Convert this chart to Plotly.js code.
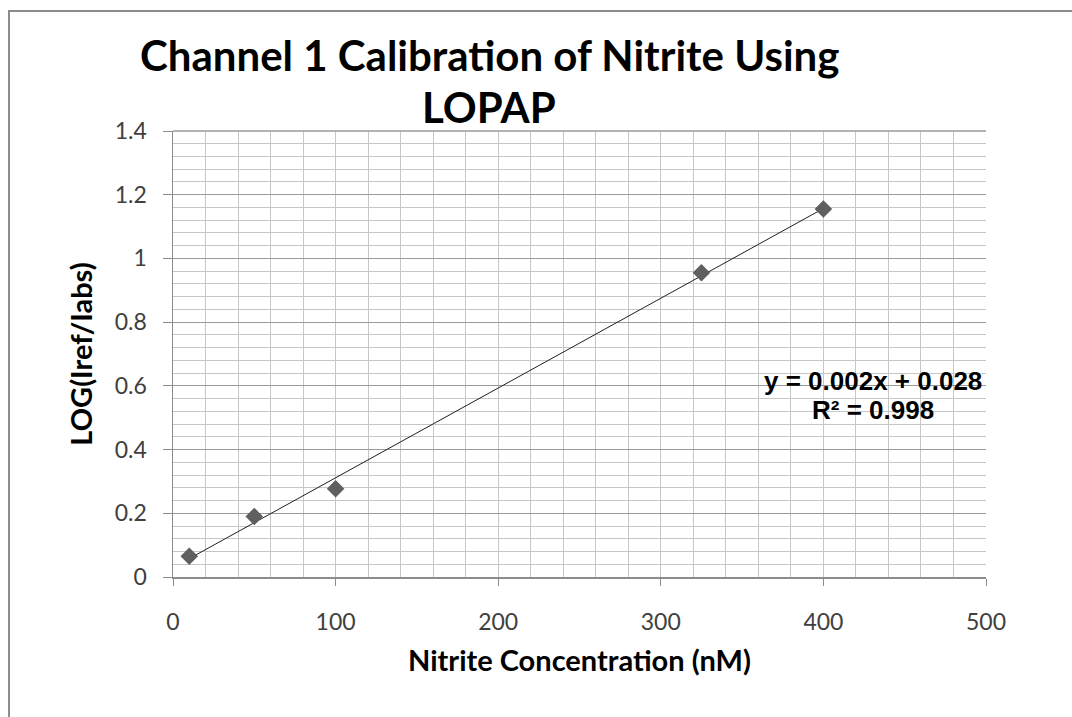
<!DOCTYPE html>
<html>
<head>
<meta charset="utf-8">
<script src="https://cdn.plot.ly/plotly-3.0.1.min.js"></script>
<style>
html,body{margin:0;padding:0;background:#fff;}
#frame{position:absolute;left:0;top:0;width:1072px;height:717px;overflow:hidden;}
#chart{position:absolute;left:0;top:0;width:1072px;height:717px;}
#border{position:absolute;left:8px;top:10px;width:1100px;height:800px;border-left:2px solid #8c8c8c;border-top:2px solid #8c8c8c;pointer-events:none;}
</style>
</head>
<body>
<div id="frame"><div id="chart"></div><div id="border"></div></div>
<script>
const concentration = [10, 50, 100, 325, 400];
const logRatio = [0.065, 0.19, 0.277, 0.955, 1.155];
const xTicks = [0, 100, 200, 300, 400, 500];
const yTicks = [0, 0.2, 0.4, 0.6, 0.8, 1, 1.2, 1.4];
const yTickText = ['0', '0.2', '0.4', '0.6', '0.8', '1', '1.2', '1.4'];
const titleLines = ['Channel 1 Calibration of Nitrite Using', 'LOPAP'];
const equationLines = ['y = 0.002x + 0.028', 'R² = 0.998'];

// least-squares trendline from the data
const n = concentration.length;
const mx = concentration.reduce((a, b) => a + b, 0) / n;
const my = logRatio.reduce((a, b) => a + b, 0) / n;
let sxy = 0, sxx = 0;
for (let i = 0; i < n; i++) { sxy += (concentration[i] - mx) * (logRatio[i] - my); sxx += (concentration[i] - mx) ** 2; }
const slope = sxy / sxx, intercept = my - slope * mx;
const trendX = [Math.min(...concentration), Math.max(...concentration)];
const trendY = trendX.map(x => slope * x + intercept);

const sans = 'Lato, "Open Sans", sans-serif';
const tickFont = {family: sans, size: 23, color: '#404040'};

const data = [
  {x: trendX, y: trendY, mode: 'lines', line: {color: '#202020', width: 1}, hoverinfo: 'skip', showlegend: false},
  {x: concentration, y: logRatio, mode: 'markers', marker: {symbol: 'diamond', size: 13.5, color: '#5f5f5f'}, showlegend: false}
];

const layout = {
  width: 1072, height: 717,
  paper_bgcolor: 'rgba(0,0,0,0)', plot_bgcolor: '#fff',
  margin: {l: 173, r: 86, t: 131, b: 140},
  xaxis: {
    range: [0, 500], tickvals: xTicks, ticktext: xTicks.map(String),
    showgrid: true, gridcolor: '#c6c6c6', gridwidth: 1,
    minor: {dtick: 20, tick0: 0, showgrid: true, gridcolor: '#c6c6c6', gridwidth: 1},
    showline: true, linecolor: '#8c8c8c', linewidth: 1.5,
    ticks: 'outside', ticklen: 7, tickcolor: '#8c8c8c', ticklabelstandoff: 17,
    tickfont: tickFont, zeroline: false,
    title: {text: '<b>Nitrite Concentration (nM)</b>', standoff: 16, font: {family: sans, size: 29, color: '#000'}}
  },
  yaxis: {
    range: [0, 1.4], tickvals: yTicks, ticktext: yTickText,
    showgrid: true, gridcolor: '#9a9a9a', gridwidth: 1,
    minor: {dtick: 0.04, tick0: 0, showgrid: true, gridcolor: '#c6c6c6', gridwidth: 1},
    showline: true, linecolor: '#8c8c8c', linewidth: 1.5, mirror: false,
    ticks: 'outside', ticklen: 9, tickcolor: '#8c8c8c', ticklabelstandoff: 11,
    tickfont: tickFont, zeroline: false,
    title: {text: '<b>LOG(Iref/Iabs)</b>', standoff: 13, font: {family: sans, size: 29, color: '#000'}}
  },
  annotations: [
    {text: '<b>' + titleLines[0] + '</b>', xref: 'paper', yref: 'paper', x: 0.389, y: 1.171, xanchor: 'center', yanchor: 'middle', showarrow: false,
      font: {family: sans, size: 42, color: '#000'}},
    {text: '<b>' + titleLines[1] + '</b>', xref: 'paper', yref: 'paper', x: 0.389, y: 1.054, xanchor: 'center', yanchor: 'middle', showarrow: false,
      font: {family: sans, size: 42, color: '#000'}},
    {text: '<b>' + equationLines[0] + '</b>', xref: 'paper', yref: 'paper', x: 0.861, y: 0.4395, xanchor: 'center', yanchor: 'middle', showarrow: false,
      font: {family: '"Liberation Sans", Arial, sans-serif', size: 26, color: '#000'}},
    {text: '<b>' + equationLines[1] + '</b>', xref: 'paper', yref: 'paper', x: 0.861, y: 0.3744, xanchor: 'center', yanchor: 'middle', showarrow: false,
      font: {family: '"Liberation Sans", Arial, sans-serif', size: 26, color: '#000'}}
  ],
  shapes: [{type: 'line', xref: 'paper', yref: 'paper', x0: 0, x1: 1, y0: 1, y1: 1, line: {color: '#9a9a9a', width: 1.5}}]
};

Plotly.newPlot('chart', data, layout, {displayModeBar: false, staticPlot: true});
</script>
</body>
</html>
